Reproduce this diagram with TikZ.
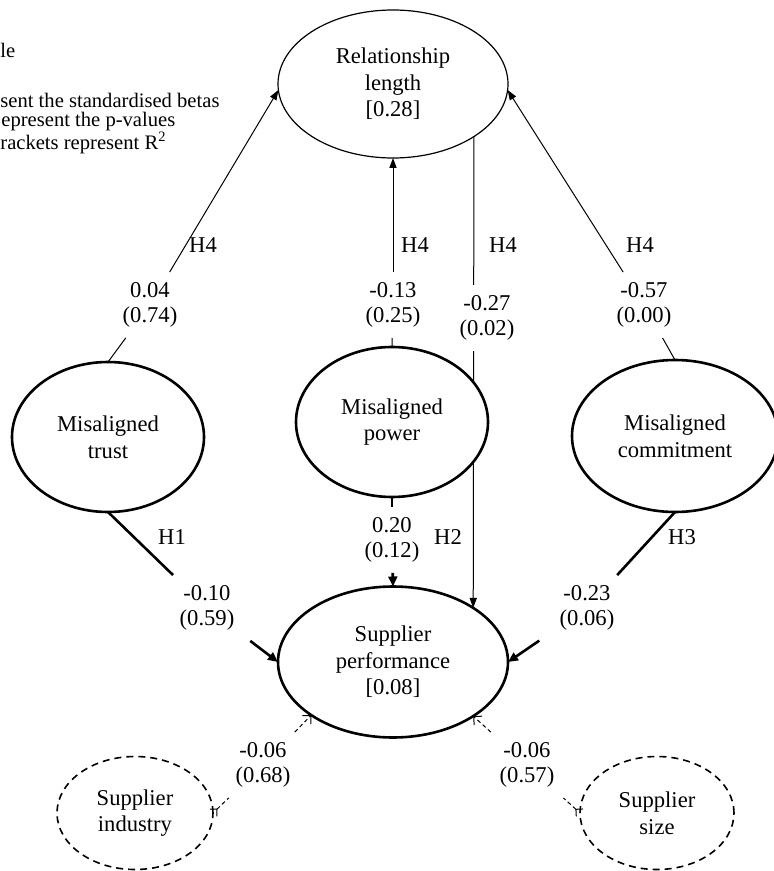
\documentclass[tikz,border=0pt]{standalone}
\usepackage{fontspec}
\setmainfont{Liberation Serif}
\usepackage{tikz}
\usetikzlibrary{shapes.geometric}
\usetikzlibrary{arrows.meta}
\usetikzlibrary{backgrounds}

\begin{document}
\begin{tikzpicture}[x=0.5pt, y=-0.5pt,
		latent/.style={ellipse, draw, fill=white, line width=1.3pt, inner sep=0pt, outer sep=0pt, align=center, font=\fontsize{11.3}{13.3}\selectfont},
		control/.style={latent, line width=0.8pt, dash pattern=on 3.5pt off 2.5pt},
		coef/.style={fill=white, inner xsep=10pt, inner ysep=5pt, align=center, font=\fontsize{11.3}{12.6}\selectfont},
		hyp/.style={inner sep=1pt, font=\fontsize{11.3}{13}\selectfont},
		note/.style={anchor=west, inner sep=0pt, font=\fontsize{10.3}{12}\selectfont},
		thinpath/.style={line width=0.5pt},
		thickpath/.style={line width=1.3pt},
		ctrlpath/.style={line width=0.5pt, dash pattern=on 2pt off 1.5pt},
		thintip/.style={-{Triangle[length=5pt,width=3.6pt]}},
		thicktip/.style={-{Triangle[length=5pt,width=4.4pt]}}
	]
			\useasboundingbox (0,0) rectangle (773,871);
			% Notes (cut at the left edge):
			\node[note] (nt1) at (0,50) {le};
			\node[note] (nt2) at (0,100) {sent the standardised betas};
			\node[note] (nt3) at (1,122) {epresent the p-values};
			\node[note] (nt4) at (0,143) {rackets represent R\textsuperscript{2}};
			% Latent variables:
			\node[latent, line width=0.6pt, minimum width=115pt, minimum height=74pt] (rel) at (393,84) {Relationship\\length\\{[0.28]}};
			\node[latent, minimum width=96pt, minimum height=75pt] (trust) at (108,437) {Misaligned\\trust};
			\node[latent, minimum width=96pt, minimum height=75pt] (power) at (392,422) {Misaligned\\power};
			\node[latent, minimum width=103pt, minimum height=76pt] (commit) at (675,436) {Misaligned\\commitment};
			\node[latent, minimum width=115pt, minimum height=75.5pt] (perf) at (393,662) {Supplier\\performance\\{[0.08]}};
			\node[control, minimum width=78pt, minimum height=56.5pt] (ind) at (135,813) {Supplier\\industry};
			\node[control, minimum width=77pt, minimum height=56.5pt] (size) at (657,813) {Supplier\\size};
			% Coefficients and hypotheses:
			\node[coef] (c-trlen) at (150,305) {0.04\\(0.74)};
			\node[coef] (c-pwlen) at (393,305) {-0.13\\(0.25)};
			\node[coef] (c-cmlen) at (644,305) {-0.57\\(0.00)};
			\node[coef] (c-trpf) at (207,608) {-0.10\\(0.59)};
			\node[coef] (c-pwpf) at (392,540) {0.20\\(0.12)};
			\node[coef] (c-cmpf) at (587,608) {-0.23\\(0.06)};
			\node[coef] (c-inpf) at (263,765) {-0.06\\(0.68)};
			\node[coef] (c-szpf) at (527,765) {-0.06\\(0.57)};
			\node[hyp] (h4a) at (203,245) {H4};
			\node[hyp] (h4b) at (415,245) {H4};
			\node[hyp] (h4c) at (503,245) {H4};
			\node[hyp] (h4d) at (640,245) {H4};
			\node[hyp] (h1) at (172,537) {H1};
			\node[hyp] (h2) at (448,537) {H2};
			\node[hyp] (h3) at (682,537) {H3};
			% Paths to relationship length:
			\draw[thinpath] (trust.north) -- (c-trlen);
			\draw[thinpath, thintip] (c-trlen) -- (rel.183);
			\draw[thinpath] (power.north) -- (c-pwlen);
			\draw[thinpath, thintip] (c-pwlen) -- (rel.south);
			\draw[thinpath] (commit.north) -- (c-cmlen);
			\draw[thinpath, thintip] (c-cmlen) -- (rel.-3);
			% Paths to supplier performance:
			\begin{scope}[on background layer]
				\draw[thinpath, thintip] (rel.-33.5) -- (perf.34.5);
			\end{scope}
			\node[coef] (c-lenpf) at (487,318) {-0.27\\(0.02)};
			\draw[thickpath] (trust.south) -- (c-trpf);
			\draw[thickpath, thicktip] (c-trpf) -- (perf.west);
			\draw[thickpath] (power.south) -- (c-pwpf);
			\draw[thickpath, thicktip] (c-pwpf) -- (perf.north);
			\draw[thickpath] (commit.south) -- (c-cmpf);
			\draw[thickpath, thicktip] (c-cmpf) -- (perf.east);
			\draw[ctrlpath, {Straight Barb[reversed,length=2.5pt,width=5pt]}-] (ind.east) -- (c-inpf);
			\draw[ctrlpath, -{Straight Barb[length=3pt,width=6pt]}] (c-inpf) -- (perf.213);
			\draw[ctrlpath, {Straight Barb[reversed,length=2.5pt,width=5pt]}-] (size.west) -- (c-szpf);
			\draw[ctrlpath, -{Straight Barb[length=3pt,width=6pt]}] (c-szpf) -- (perf.-34);
\end{tikzpicture}
\end{document}
